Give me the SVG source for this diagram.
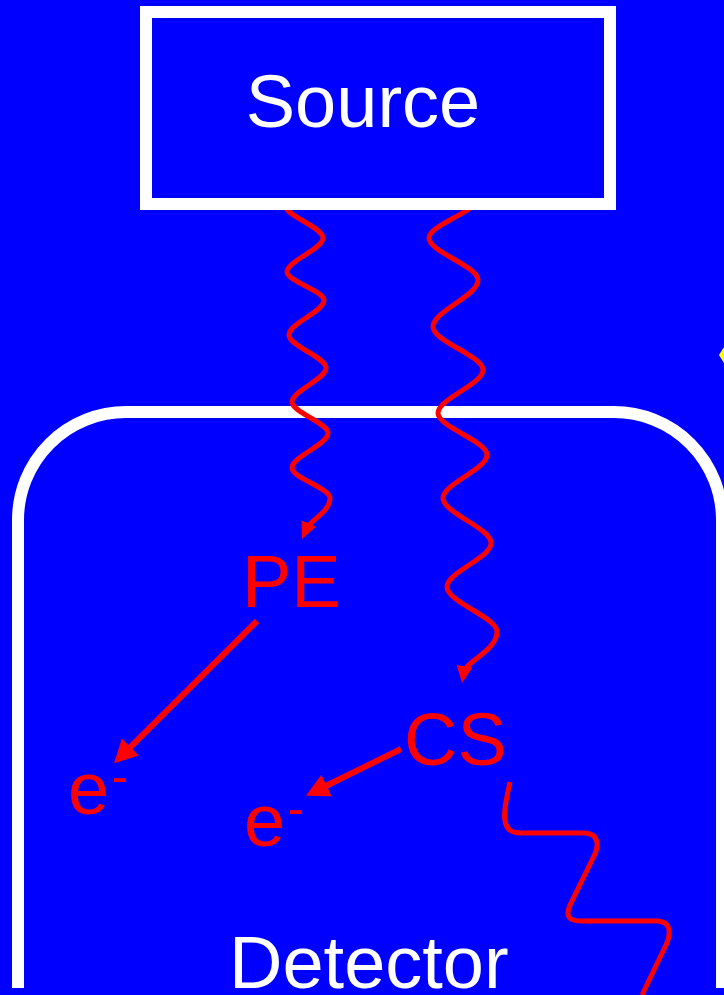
<svg xmlns="http://www.w3.org/2000/svg" width="724" height="995" viewBox="0 0 724 995">
<style>
.lbl{font-family:"Liberation Sans",Arial,sans-serif;font-size:74px}
.w{fill:#ffffff}
.r{fill:#ff0000}
.wave{fill:none;stroke:#ff0000;stroke-width:5;stroke-linejoin:round}
.arr{fill:none;stroke:#ff0000;stroke-width:6}
</style>
<defs>
<marker id="hw" viewBox="0 0 17 16" refX="6" refY="8" markerWidth="17" markerHeight="16" markerUnits="userSpaceOnUse" orient="auto">
<path d="M0,0 L17,8 L0,16 z" fill="#ff0000"/>
</marker>
<marker id="hs" viewBox="0 0 23 24" refX="6" refY="12" markerWidth="23" markerHeight="24" markerUnits="userSpaceOnUse" orient="auto">
<path d="M0,0 L23,12 L0,24 z" fill="#ff0000"/>
</marker>
</defs>
<rect x="0" y="0" width="724" height="995" fill="#0000ff"/>
<polygon points="719,355 724,347 724,363" fill="#ffff00"/>
<g id="detector">
<path d="M18,988 L18,520 A108,108 0 0 1 126,412 L614,412 A108,108 0 0 1 722,520 L722,988" fill="none" stroke="#ffffff" stroke-width="12"/>
<text class="lbl w" x="229" y="988">Detector</text>
</g>
<g id="connectors">
<path class="wave" marker-end="url(#hw)" d="M285,205 C285,216 323,227 323,238 C323,249 287,261 287,272 C287,281 324,291 324,300 C324,312 289,323 289,335 C289,346 326,357 326,368 C326,379 292,391 292,402 C292,412 328,423 328,433 C328,445 292,456 292,468 C292,478 330,488 330,498 C330,512 310.4,519.7 306.4,528.9"/>
<path class="wave" marker-end="url(#hw)" d="M478,198 C478,211 429,225 429,238 C429,252 478,266 478,280 C478,296 433,311 433,327 C433,341 483,356 483,370 C483,384 438,399 438,413 C438,427 487,441 487,455 C487,469 443,484 443,498 C443,513 491,528 491,543 C491,558 447,572 447,587 C447,602 497,617 497,632 C497,650 465.2,662.2 463.7,672.1"/>
<path class="arr" marker-end="url(#hs)" d="M257,621 L126.1,751.3"/>
<path class="arr" marker-end="url(#hs)" d="M401,749 L321.2,788.2"/>
<path class="wave" d="M510,782 C505,805 497,833 520,833 L585,833 C600,834 599,847 593,858 L570,905 C565,917 569,921 582,921 L658,921 C672,922 671,935 665,947 L642,995"/>
</g>
<g id="source">
<rect x="146" y="12" width="464" height="192" fill="#0000ff" stroke="#ffffff" stroke-width="12"/>
<text class="lbl w" x="363" y="127" text-anchor="middle">Source</text>
</g>
<g id="pe"><text class="lbl r" x="242" y="607">PE</text></g>
<g id="cs"><text class="lbl r" x="404" y="765">CS</text></g>
<g id="e1"><text class="lbl r" x="68" y="814">e<tspan font-size="48" dx="2" dy="-21">-</tspan></text></g>
<g id="e2"><text class="lbl r" x="244" y="846">e<tspan font-size="48" dx="2" dy="-21">-</tspan></text></g>
</svg>
